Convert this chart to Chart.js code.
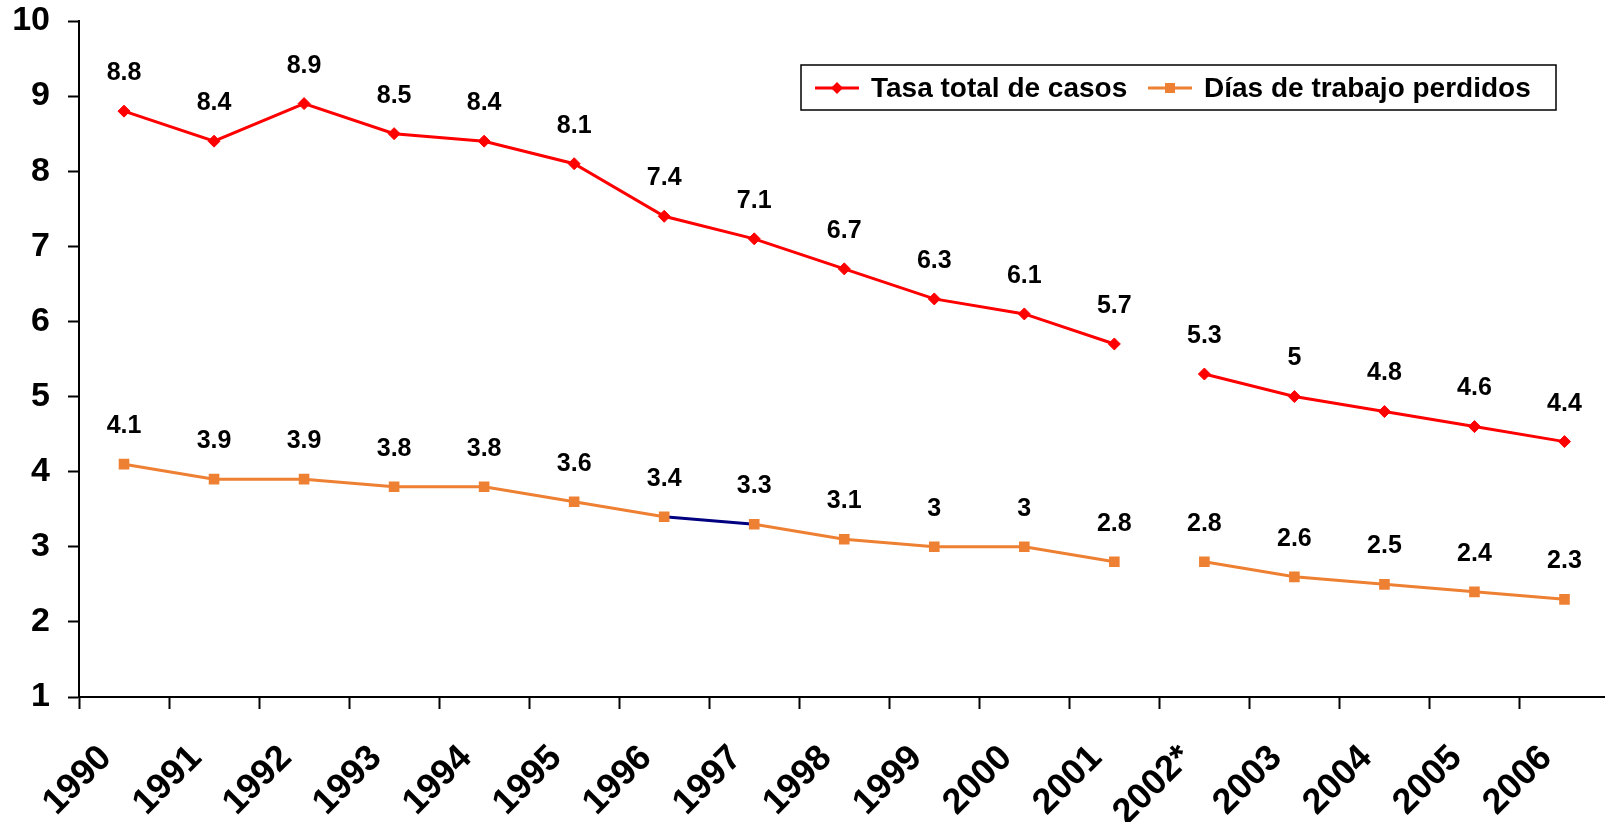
<!DOCTYPE html>
<html>
<head>
<meta charset="utf-8">
<script src="https://cdn.jsdelivr.net/npm/chart.js@4.4.0/dist/chart.umd.min.js"></script>
<style>
  html, body { margin: 0; padding: 0; background: #fff; overflow: hidden; }
  /* el área del gráfico sigue un poco más allá del borde derecho, como en el original */
  #wrap { position: absolute; left: 0; top: 0; width: 1617px; height: 822px; }
</style>
</head>
<body>
<div id="wrap"><canvas id="myChart"></canvas></div>
<script>
// Datos del gráfico
const anios = ['1990', '1991', '1992', '1993', '1994', '1995', '1996', '1997', '1998',
               '1999', '2000', '2001', '2002*', '2003', '2004', '2005', '2006'];
const tasaTotal = [8.8, 8.4, 8.9, 8.5, 8.4, 8.1, 7.4, 7.1, 6.7, 6.3, 6.1, 5.7, 5.3, 5, 4.8, 4.6, 4.4];
const diasPerdidos = [4.1, 3.9, 3.9, 3.8, 3.8, 3.6, 3.4, 3.3, 3.1, 3, 3, 2.8, 2.8, 2.6, 2.5, 2.4, 2.3];
const ticksY = [1, 2, 3, 4, 5, 6, 7, 8, 9, 10];
const nombres = ['Tasa total de casos', 'Días de trabajo perdidos'];

const ROJO = '#FF0000';
const NARANJA = '#EE8033';
const AZUL = '#000080';
const FUENTE = '"Liberation Sans", Arial, sans-serif';

// Cambio de metodología: la línea se corta entre 2001 y 2002*
const corte = anios.indexOf('2001');
const tramoAzul = anios.indexOf('1996');

// Etiquetas con el valor encima de cada punto
const etiquetasPlugin = {
  id: 'etiquetas',
  afterDatasetsDraw(chart) {
    const ctx = chart.ctx;
    ctx.save();
    ctx.font = 'bold 25px ' + FUENTE;
    ctx.fillStyle = '#000';
    ctx.textAlign = 'center';
    ctx.textBaseline = 'middle';
    chart.data.datasets.forEach(function(ds, i) {
      chart.getDatasetMeta(i).data.forEach(function(pt, j) {
        ctx.fillText(String(ds.data[j]), pt.x, pt.y - 38);
      });
    });
    ctx.restore();
  }
};

// Leyenda con recuadro, dentro del área del gráfico
const leyendaPlugin = {
  id: 'leyendaCaja',
  afterDraw(chart) {
    const ctx = chart.ctx;
    ctx.save();
    ctx.lineWidth = 1.5;
    ctx.strokeStyle = '#000';
    ctx.fillStyle = '#fff';
    ctx.fillRect(801, 65, 755, 45);
    ctx.strokeRect(801, 65, 755, 45);

    const yc = 88;
    const items = [
      { x: 815, color: ROJO, forma: 'rombo', texto: nombres[0], tx: 871 },
      { x: 1148, color: NARANJA, forma: 'cuadro', texto: nombres[1], tx: 1204 }
    ];
    ctx.font = 'bold 28px ' + FUENTE;
    ctx.textBaseline = 'middle';
    ctx.textAlign = 'left';
    items.forEach(function(it) {
      ctx.strokeStyle = it.color;
      ctx.lineWidth = 3;
      ctx.beginPath();
      ctx.moveTo(it.x, yc);
      ctx.lineTo(it.x + 44, yc);
      ctx.stroke();
      ctx.fillStyle = it.color;
      const cx = it.x + 22;
      ctx.beginPath();
      if (it.forma === 'rombo') {
        ctx.moveTo(cx, yc - 6);
        ctx.lineTo(cx + 6, yc);
        ctx.lineTo(cx, yc + 6);
        ctx.lineTo(cx - 6, yc);
        ctx.closePath();
      } else {
        ctx.rect(cx - 5, yc - 5, 10, 10);
      }
      ctx.fill();
      ctx.fillStyle = '#000';
      ctx.fillText(it.texto, it.tx, yc + 1);
    });
    ctx.restore();
  }
};

function colorTramo(colorBase) {
  return function(ctx) {
    if (ctx.p0DataIndex === corte) return 'transparent';
    return colorBase;
  };
}

const ctx = document.getElementById('myChart').getContext('2d');
window.myChart = new Chart(ctx, {
  type: 'line',
  data: {
    labels: anios,
    datasets: [{
      label: nombres[0],
      data: tasaTotal,
      borderColor: ROJO,
      backgroundColor: ROJO,
      borderWidth: 3,
      pointStyle: 'rectRot',
      pointRadius: 6,
      pointBorderWidth: 1,
      pointBackgroundColor: ROJO,
      pointBorderColor: ROJO,
      tension: 0,
      segment: { borderColor: colorTramo(ROJO) }
    }, {
      label: nombres[1],
      data: diasPerdidos,
      borderColor: NARANJA,
      backgroundColor: NARANJA,
      borderWidth: 3,
      pointStyle: 'rect',
      pointRadius: 7.5,
      pointBorderWidth: 0,
      pointBackgroundColor: NARANJA,
      pointBorderColor: NARANJA,
      tension: 0,
      segment: {
        borderColor: function(c) {
          if (c.p0DataIndex === corte) return 'transparent';
          if (c.p0DataIndex === tramoAzul) return AZUL;
          return NARANJA;
        }
      }
    }]
  },
  options: {
    responsive: true,
    maintainAspectRatio: false,
    animation: false,
    layout: { padding: { top: 21, right: 1, left: 0, bottom: 0 } },
    plugins: {
      legend: { display: false },
      tooltip: { enabled: false }
    },
    scales: {
      x: {
        offset: true,
        grid: {
          offset: true,
          drawOnChartArea: false,
          drawTicks: true,
          tickLength: 12,
          tickWidth: 2,
          tickColor: '#000'
        },
        border: { color: '#000', width: 2 },
        ticks: {
          color: '#000',
          font: { family: FUENTE, size: 36, weight: 'bold' },
          minRotation: 45,
          maxRotation: 45,
          autoSkip: false,
          padding: 28,
          labelOffset: -18
        },
        afterFit: function(s) {
          s.height = 125;
          s.paddingLeft = 0;
          s.paddingRight = 0;
        }
      },
      y: {
        min: ticksY[0],
        max: ticksY[ticksY.length - 1],
        grid: {
          drawOnChartArea: false,
          drawTicks: true,
          tickLength: 11,
          tickWidth: 2,
          tickColor: '#000'
        },
        border: { color: '#000', width: 2 },
        ticks: {
          stepSize: 1,
          color: '#000',
          font: { family: FUENTE, size: 34, weight: 'bold' },
          padding: 18
        },
        afterFit: function(s) {
          s.width = 79;
          s.paddingTop = 0;
          s.paddingBottom = 0;
        }
      }
    }
  },
  plugins: [etiquetasPlugin, leyendaPlugin]
});
</script>
</body>
</html>
